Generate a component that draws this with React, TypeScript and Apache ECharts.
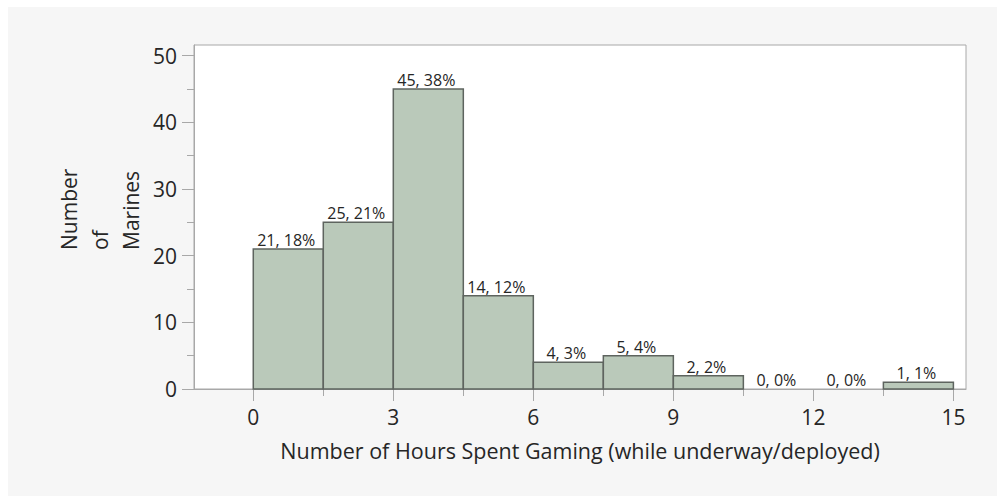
import React, { useEffect, useRef } from "react";
import * as echarts from "echarts";

const binStarts = [0, 1.5, 3, 4.5, 6, 7.5, 9, 10.5, 12, 13.5];
const binEnds = [1.5, 3, 4.5, 6, 7.5, 9, 10.5, 12, 13.5, 15];
const counts = [21, 25, 45, 14, 4, 5, 2, 0, 0, 1];
const percents = [18, 21, 38, 12, 3, 4, 2, 0, 0, 1];
const xMajorTicks = [0, 3, 6, 9, 12, 15];
const xMinorTicks = [1.5, 4.5, 7.5, 10.5, 13.5];
const yMajorTicks = [0, 10, 20, 30, 40, 50];
const yMinorTicks = [5, 15, 25, 35, 45];
const xTitle = "Number of Hours Spent Gaming (while underway/deployed)";
const yTitle = "Number\nof\nMarines";

const FONT = "'Open Sans', 'Noto Sans', sans-serif";
const AXIS_GRAY = "#a8a8a8";
const TEXT = "#262626";

export default function App() {
  const ref = useRef<HTMLDivElement>(null);
  useEffect(() => {
    if (!ref.current) return;
    const chart = echarts.init(ref.current, undefined, { renderer: "svg" });
    const data = binStarts.map((s, i) => [s, binEnds[i], counts[i], percents[i]]);
    chart.setOption({
      animation: false,
      backgroundColor: "#f6f6f6",
      grid: {
        left: 186,
        top: 38,
        width: 772,
        height: 344,
        show: true,
        backgroundColor: "#ffffff",
        borderColor: AXIS_GRAY,
        borderWidth: 1,
      },
      graphic: [
        {
          type: "text",
          x: 92,
          y: 243,
          rotation: Math.PI / 2,
          style: {
            text: yTitle,
            align: "left",
            verticalAlign: "middle",
            fontSize: 21,
            lineHeight: 31,
            fontFamily: FONT,
            fill: TEXT,
          },
        },
      ],
      xAxis: [
        {
          type: "value",
          position: "bottom",
          min: -1.27,
          max: 15.27,
          splitLine: { show: false },
          axisLine: { show: true, onZero: false, lineStyle: { color: AXIS_GRAY, width: 1 } },
          axisTick: { show: true, length: 12, customValues: xMajorTicks, lineStyle: { color: AXIS_GRAY } },
          axisLabel: { customValues: xMajorTicks, fontSize: 21, color: TEXT, fontFamily: FONT, margin: 17 },
          name: xTitle,
          nameLocation: "middle",
          nameGap: 50,
          nameTextStyle: { fontSize: 21.5, color: TEXT, fontFamily: FONT },
        },
        {
          type: "value",
          position: "bottom",
          min: -1.27,
          max: 15.27,
          splitLine: { show: false },
          axisLine: { show: false, onZero: false },
          axisTick: { show: true, length: 7, customValues: xMinorTicks, lineStyle: { color: AXIS_GRAY } },
          axisLabel: { show: false },
        },
      ],
      yAxis: [
        {
          type: "value",
          position: "left",
          min: 0,
          max: 51.6,
          splitLine: { show: false },
          axisLine: { show: true, onZero: false, lineStyle: { color: AXIS_GRAY, width: 1 } },
          axisTick: { show: true, length: 12, customValues: yMajorTicks, lineStyle: { color: AXIS_GRAY } },
          axisLabel: { customValues: yMajorTicks, fontSize: 21, color: TEXT, fontFamily: FONT, margin: 17 },
        },
        {
          type: "value",
          position: "left",
          min: 0,
          max: 51.6,
          splitLine: { show: false },
          axisLine: { show: false, onZero: false },
          axisTick: { show: true, length: 7, customValues: yMinorTicks, lineStyle: { color: AXIS_GRAY } },
          axisLabel: { show: false },
        },
      ],
      series: [
        {
          type: "custom",
          xAxisIndex: 0,
          yAxisIndex: 0,
          encode: { x: [0, 1], y: 2 },
          data,
          renderItem: (params: any, api: any) => {
            const x0 = api.value(0);
            const x1 = api.value(1);
            const v = api.value(2);
            const pct = api.value(3);
            const p0 = api.coord([x0, 0]);
            const p1 = api.coord([x1, v]);
            const children: any[] = [];
            if (v > 0) {
              children.push({
                type: "rect",
                shape: { x: p0[0], y: p1[1], width: p1[0] - p0[0], height: p0[1] - p1[1] },
                style: { fill: "#bac9ba", stroke: "#5e645f", lineWidth: 1.5 },
              });
            }
            children.push({
              type: "text",
              x: (p0[0] + p1[0]) / 2 - 2,
              y: p1[1] - 1,
              style: {
                text: `${v}, ${pct}%`,
                align: "center",
                verticalAlign: "bottom",
                fontSize: 16,
                fontFamily: FONT,
                fill: TEXT,
              },
            });
            return { type: "group", children };
          },
        },
      ],
    });
    return () => chart.dispose();
  }, []);
  return (
    <div
      ref={ref}
      style={{ position: "absolute", left: 8, top: 7, width: 989, height: 489 }}
    />
  );
}
